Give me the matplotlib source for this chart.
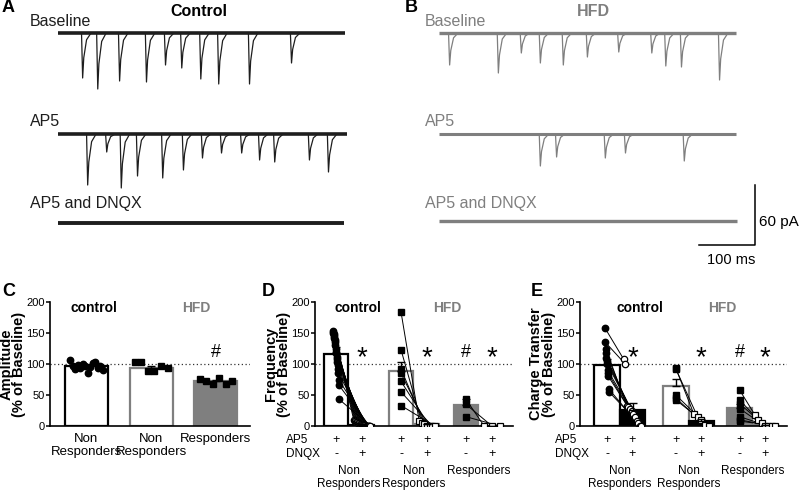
import numpy as np
import matplotlib.pyplot as plt

plt.rcParams['font.family'] = ['Liberation Sans', 'DejaVu Sans']

W, H = 800, 492
GRAY = '#7f7f7f'
MS_PX = 0.56  # pixels per ms in the trace panels

# ---- example traces: event times (ms) and amplitudes (pA)
a_base_t = [43, 70, 109, 157, 191, 220, 254, 286, 341, 416]
a_base_amp = [45, 56, 48, 49, 32, 35, 46, 51, 51, 30]
a_ap5_t = [52, 86, 112, 141, 186, 223, 257, 291, 327, 359, 386, 448, 482]
a_ap5_amp = [51, 18, 54, 42, 44, 36, 24, 19, 19, 26, 28, 26, 38]
b_base_t = [18, 105, 146, 180, 221, 264, 320, 379, 404, 432, 500]
b_base_amp = [32, 40, 20, 30, 32, 24, 19, 20, 33, 34, 47]
b_ap5_t = [180, 209, 296, 332, 437]
b_ap5_amp = [32, 23, 24, 19, 27]
trace_rows = ['Baseline', 'AP5', 'AP5 and DNQX']

# ---- C: amplitude (% of baseline)
amp_labels = ['Non\nResponders', 'Non\nResponders', 'Responders']
amp_means = [96, 94, 73]
amp_sem = [2, 3, 2]
amp_ctrl = [106, 96, 92, 98, 94, 100, 97, 86, 95, 101, 104, 93, 97, 90]
amp_hfd_nr = [103, 104, 88, 89, 96, 94]
amp_hfd_r = [76, 72, 67, 78, 67, 73]

# ---- D: frequency (% of baseline), AP5 then AP5+DNQX
freq_means = [116, 2, 89, 3, 34, 0.5]
freq_sem = [11, 1, 14, 1, 10, 0]
freq_ctrl_ap5 = [153, 150, 148, 145, 142, 138, 135, 130, 125, 120,
                 118, 112, 108, 104, 98, 92, 85, 75, 66, 43]
freq_ctrl_dnqx = [10, 9, 8, 7, 6, 5, 5, 4, 3, 3, 2, 2, 1, 1, 0, 0, 0, 0, 0, 0]
freq_hfd_nr_ap5 = [184, 123, 92, 85, 72, 55, 33]
freq_hfd_nr_dnqx = [8, 5, 3, 0, 0, 0, 0]
freq_hfd_r_ap5 = [43, 35, 15]
freq_hfd_r_dnqx = [0, 0, 0]

# ---- E: charge transfer (% of baseline)
charge_means = [99, 26, 65, 8, 29, 1]
charge_sem = [9, 11, 11, 4, 7, 0]
charge_ctrl_ap5 = [158, 135, 125, 118, 110, 105, 100, 90, 85, 80, 60, 55]
charge_ctrl_dnqx = [108, 100, 32, 30, 28, 25, 20, 15, 8, 5, 0, 0]
charge_hfd_nr_ap5 = [93, 92, 50, 45, 42]
charge_hfd_nr_dnqx = [20, 15, 10, 2, 0]
charge_hfd_r_ap5 = [58, 42, 36, 28, 15, 10, 8]
charge_hfd_r_dnqx = [18, 10, 5, 0, 0, 0, 0]

ap5_row = ['+', '+', '+', '+', '+', '+']
dnqx_row = ['-', '+', '-', '+', '-', '+']
group_labels = ['Non\nResponders', 'Non\nResponders', 'Responders']

fig = plt.figure(figsize=(8, 4.92), dpi=100)


def px_axes(l, t, r, b):
    return fig.add_axes([l / W, 1 - b / H, (r - l) / W, (b - t) / H])


def fig_text(x, y, s, **kw):
    fig.text(x / W, 1 - y / H, s, **kw)


def draw_trace(ax, y0, t_end, times, amps, color, lw_base):
    ax.plot([0, t_end], [y0, y0], color=color, lw=lw_base, solid_capstyle='butt')
    for t, a in zip(times, amps):
        ax.plot([t - 1, t + 1, t + 3, t + 8, t + 16],
                [y0, y0 - a, y0 - 0.55 * a, y0 - 0.15 * a, y0], color=color, lw=0.9)


# ---------------- A
axA = px_axes(0, 0, 400, 265)
axA.set_xlim(-58 / MS_PX, (400 - 58) / MS_PX)
axA.set_ylim(-265, 0)
axA.axis('off')
draw_trace(axA, -33, 512, a_base_t, a_base_amp, '#1e1e1e', 2.6)
draw_trace(axA, -134, 516, a_ap5_t, a_ap5_amp, '#1e1e1e', 2.6)
draw_trace(axA, -223, 510, [], [], '#1e1e1e', 2.8)

# ---------------- B
axB = px_axes(400, 0, 800, 265)
axB.set_xlim(-39 / MS_PX, (400 - 39) / MS_PX)
axB.set_ylim(-265, 0)
axB.axis('off')
draw_trace(axB, -33, 530, b_base_t, b_base_amp, GRAY, 2.4)
draw_trace(axB, -134, 530, b_ap5_t, b_ap5_amp, GRAY, 2.2)
draw_trace(axB, -221, 532, [], [], GRAY, 2.4)
sb_x = (755 - 439) / MS_PX
axB.plot([sb_x - 100, sb_x, sb_x], [-245, -245, -185], color='black', lw=1.1)
axB.text(sb_x + 7, -222, '60 pA', fontsize=11, va='center', ha='left')
axB.text(sb_x - 43, -260, '100 ms', fontsize=10.5, va='center', ha='center')

for ys, name in zip([21, 121, 204], trace_rows):
    fig_text(30, ys, name, fontsize=11.5, va='center', color='#1e1e1e')
    fig_text(425, ys, name, fontsize=11.5, va='center', color=GRAY)

fig_text(2, 8, 'A', fontsize=13, fontweight='bold', va='center')
fig_text(405, 8, 'B', fontsize=13, fontweight='bold', va='center')
fig_text(199, 12, 'Control', fontsize=11.5, fontweight='bold', va='center', ha='center')
fig_text(593, 12, 'HFD', fontsize=11.5, fontweight='bold', va='center', ha='center', color=GRAY)
fig_text(2, 291, 'C', fontsize=13, fontweight='bold', va='center')
fig_text(262, 291, 'D', fontsize=13, fontweight='bold', va='center')
fig_text(531, 292, 'E', fontsize=13, fontweight='bold', va='center')


def style_axis(ax, ylabel, label_px):
    ax.set_ylim(0, 200)
    ax.set_yticks([0, 50, 100, 150, 200])
    for s in ['top', 'right']:
        ax.spines[s].set_visible(False)
    for s in ['left', 'bottom']:
        ax.spines[s].set_linewidth(1.2)
    ax.tick_params(axis='y', labelsize=8, length=3, width=1.1, pad=1)
    ax.tick_params(axis='x', length=0)
    ax.axhline(100, color='#333333', lw=0.9, ls=(0, (1, 2)), zorder=0.5)
    ax.set_ylabel(ylabel, fontsize=10.5, fontweight='bold', linespacing=0.88)
    bbox = ax.get_position()
    ax.yaxis.set_label_coords(label_px / (bbox.width * W), 0.5)


def paired(ax, x0, x1, v0, v1, marker, fc1, w0=0.2, w1=0.35):
    n = len(v0)
    xs0 = x0 + np.linspace(-w0, w0, n)
    xs1 = x1 + np.linspace(-w1, w1, n)
    for a, b, c, d in zip(xs0, v0, xs1, v1):
        ax.plot([a, c], [b, d], color='black', lw=0.7, zorder=2)
    ax.plot(xs0, v0, marker, ms=4.6, mfc='black', mec='black', ls='none', zorder=3)
    ax.plot(xs1, v1, marker, ms=4.6, mfc=fc1, mec='black', mew=0.9, ls='none', zorder=3)


# ---------------- C
axC = px_axes(50, 302, 250, 426)
posC = [0, 1.5, 3]
axC.set_xlim(-0.845, 3.79)
style_axis(axC, 'Amplitude\n(% of Baseline)', -24)
axC.bar(posC, amp_means, width=1.0, color=['white', 'white', GRAY],
        edgecolor=['black', GRAY, GRAY], linewidth=1.6, zorder=1)
axC.errorbar(posC, amp_means, yerr=[[0, 0, 0], amp_sem], fmt='none', ecolor='black',
             elinewidth=1, capsize=3, zorder=4)
for p, vals, m in zip(posC, [amp_ctrl, amp_hfd_nr, amp_hfd_r], ['o', 's', 's']):
    xs = p + np.linspace(-0.38, 0.38, len(vals))
    axC.plot(xs, vals, m, ms=4.6, color='black', ls='none', zorder=3)
axC.set_xticks(posC)
axC.set_xticklabels(amp_labels, fontsize=9.5, linespacing=1.1)
axC.tick_params(axis='x', pad=5)
axC.text(3, 118, '#', fontsize=13, ha='center', va='center')
fig_text(94, 308, 'control', fontsize=10, fontweight='bold', ha='center', va='center')
fig_text(196, 308, 'HFD', fontsize=10, fontweight='bold', ha='center', va='center', color=GRAY)


def under_rows(ax, pos, left_px):
    ax.set_xticks([])
    ax.annotate('AP5', xy=(0, 0), xycoords='axes fraction', xytext=(left_px, -14),
                textcoords='offset pixels', fontsize=8.5, va='center', ha='left')
    ax.annotate('DNQX', xy=(0, 0), xycoords='axes fraction', xytext=(left_px, -28),
                textcoords='offset pixels', fontsize=8.5, va='center', ha='left')
    for p, a, d in zip(pos, ap5_row, dnqx_row):
        ax.annotate(a, xy=(p, 0), xycoords=('data', 'axes fraction'), xytext=(0, -14),
                    textcoords='offset pixels', fontsize=9, va='center', ha='center')
        ax.annotate(d, xy=(p, 0), xycoords=('data', 'axes fraction'), xytext=(0, -28),
                    textcoords='offset pixels', fontsize=9, va='center', ha='center')
    for i, lab in enumerate(group_labels):
        mid = (pos[2 * i] + pos[2 * i + 1]) / 2
        ax.annotate(lab, xy=(mid, 0), xycoords=('data', 'axes fraction'), xytext=(0, -39),
                    textcoords='offset pixels', fontsize=8.5, va='top', ha='center',
                    linespacing=1.1)


# ---------------- D
axD = px_axes(315, 302, 513, 426)
posD = [0, 1, 2.5, 3.5, 5, 6]
axD.set_xlim(-0.81, 6.81)
style_axis(axD, 'Frequency\n(% of Baseline)', -24)
axD.bar(posD, freq_means, width=0.9,
        color=['white', 'white', 'white', 'white', GRAY, 'white'],
        edgecolor=['black', 'black', GRAY, GRAY, GRAY, GRAY], linewidth=1.6, zorder=1)
axD.errorbar(posD, freq_means, yerr=[[0] * 6, freq_sem], fmt='none', ecolor='black',
             elinewidth=1, capsize=3, zorder=4)
paired(axD, 0, 1, freq_ctrl_ap5, freq_ctrl_dnqx, 'o', 'white', 0.12, 0.32)
paired(axD, 2.5, 3.5, freq_hfd_nr_ap5, freq_hfd_nr_dnqx, 's', 'white', 0.0, 0.3)
paired(axD, 5, 6, freq_hfd_r_ap5, freq_hfd_r_dnqx, 's', 'white', 0.0, 0.3)
under_rows(axD, posD, -29)
for p in [1, 3.5, 6]:
    axD.text(p, 110, '*', fontsize=20, ha='center', va='center')
axD.text(5, 118, '#', fontsize=13, ha='center', va='center')
fig_text(358, 308, 'control', fontsize=10, fontweight='bold', ha='center', va='center')
fig_text(447, 308, 'HFD', fontsize=10, fontweight='bold', ha='center', va='center', color=GRAY)

# ---------------- E
axE = px_axes(580, 302, 787, 426)
posE = [0, 1, 2.7, 3.7, 5.2, 6.2]
axE.set_xlim(-1.06, 7.06)
style_axis(axE, 'Charge Transfer\n(% of Baseline)', -24)
axE.bar(posE, charge_means, width=1.0,
        color=['white', 'black', 'white', 'black', GRAY, 'white'],
        edgecolor=['black', 'black', GRAY, 'black', GRAY, GRAY], linewidth=1.6, zorder=1)
axE.errorbar(posE, charge_means, yerr=[[0] * 6, charge_sem], fmt='none', ecolor='black',
             elinewidth=1, capsize=3, zorder=4)
paired(axE, 0, 1, charge_ctrl_ap5, charge_ctrl_dnqx, 'o', 'white', 0.08, 0.35)
paired(axE, 2.7, 3.7, charge_hfd_nr_ap5, charge_hfd_nr_dnqx, 's', 'white', 0.0, 0.3)
paired(axE, 5.2, 6.2, charge_hfd_r_ap5, charge_hfd_r_dnqx, 's', 'white', 0.0, 0.4)
under_rows(axE, posE, -25)
for p in [1, 3.7, 6.2]:
    axE.text(p, 110, '*', fontsize=20, ha='center', va='center')
axE.text(5.2, 118, '#', fontsize=13, ha='center', va='center')
fig_text(640, 308, 'control', fontsize=10, fontweight='bold', ha='center', va='center')
fig_text(722, 308, 'HFD', fontsize=10, fontweight='bold', ha='center', va='center', color=GRAY)

fig.savefig('out.png', dpi=100)
